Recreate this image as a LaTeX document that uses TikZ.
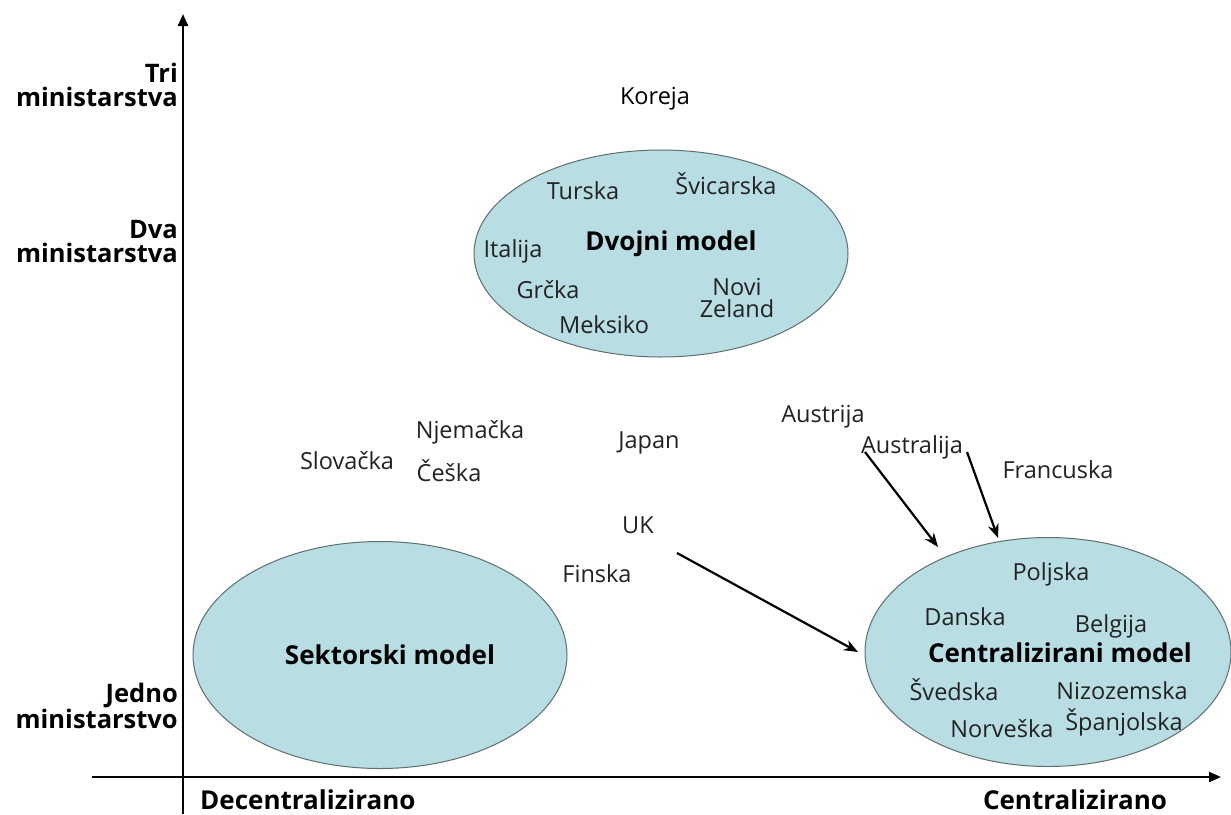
\documentclass[tikz,border=0pt]{standalone}
\usepackage{fontspec}
\setmainfont{Open Sans}
\usetikzlibrary{shapes.geometric,arrows.meta}
\definecolor{ellfill}{HTML}{B8DDE3}
\definecolor{ellline}{HTML}{5E6E71}
\definecolor{txt}{HTML}{222222}
\begin{document}
\begin{tikzpicture}[x=1pt,y=-1pt,
  cty/.style={font=\fontsize{23.5}{22}\selectfont, text=txt, inner sep=0pt, align=center},
  mdl/.style={font=\bfseries\fontsize{26}{26}\selectfont, text=black, inner sep=0pt},
  axl/.style={font=\bfseries\fontsize{25.5}{24}\selectfont, text=black, align=right, anchor=north east, inner sep=0pt},
  hxl/.style={font=\bfseries\fontsize{26}{26}\selectfont, text=black, inner sep=0pt},
  zone/.style={ellipse, draw=ellline, fill=ellfill, line width=1pt, inner sep=0pt},
  arr/.style={-{Stealth[length=14pt,width=11pt]}, line width=2.2pt},
  axisline/.style={-{Triangle[length=12pt,width=10pt]}, line width=2.2pt}]
\useasboundingbox (0,0) rectangle (1231,814);
\fill[white] (0,0) rectangle (1231,814);

% zones
\node[zone, minimum width=374pt, minimum height=207pt] (dv) at (661,253.5) {};
\node[zone, minimum width=374pt, minimum height=227pt] (sk) at (380,655) {};
\node[zone, minimum width=366pt, minimum height=229pt] (cm) at (1048,652) {};

% axes
\coordinate (yb) at (183,814);
\coordinate (yt) at (183,14);
\coordinate (xl) at (92,777);
\coordinate (xr) at (1221,777);
\draw[axisline] (yb) -- (yt);
\draw[axisline] (xl) -- (xr);

% axis labels
\node[axl] (tri) at (178,63) {Tri\\ministarstva};
\node[axl] (dva) at (178,220) {Dva\\ministarstva};
\node[axl] (jedno) at (178,683) {Jedno\\ministarstvo};
\node[hxl, anchor=north west] (dec) at (200,790) {Decentralizirano};
\node[hxl, anchor=north] (cen) at (1075,790) {Centralizirano};

% model titles
\node[mdl] (dvm) at (671,244) {Dvojni model};
\node[mdl] (skm) at (390,655) {Sektorski model};
\node[mdl] (cmm) at (1060,653) {Centralizirani model};

% dual model
\node[cty, text=black] (kor) at (655,99) {Koreja};
\node[cty] (tur) at (583,191) {Turska};
\node[cty] (svi) at (726,184) {Švicarska};
\node[cty] (ita) at (513,251) {Italija};
\node[cty] (grc) at (548,290) {Grčka};
\node[cty] (nz) at (737,298) {Novi\\Zeland};
\node[cty] (mek) at (604,325) {Meksiko};

% middle
\node[cty] (slo) at (347,461) {Slovačka};
\node[cty] (nje) at (470,432) {Njemačka};
\node[cty] (ces) at (449,471) {Češka};
\node[cty] (jap) at (649,443) {Japan};
\node[cty] (uk) at (638,525) {UK};
\node[cty] (fin) at (597,574) {Finska};
\node[cty] (aut) at (823,417) {Austrija};
\node[cty] (aus) at (912,447) {Australija};
\node[cty] (fra) at (1058,470) {Francuska};

% centralised model
\node[cty] (pol) at (1051,574) {Poljska};
\node[cty] (dan) at (965,617) {Danska};
\node[cty] (bel) at (1111,626) {Belgija};
\node[cty] (sve) at (954,690) {Švedska};
\node[cty] (niz) at (1122,691) {Nizozemska};
\node[cty] (nor) at (1002,729) {Norveška};
\node[cty] (spa) at (1124,722) {Španjolska};

% arrows
\coordinate (ukout) at (677,553);
\coordinate (cmw) at (858,652);
\coordinate (ausl) at (865,452);
\coordinate (cmnw) at (938,547);
\coordinate (ausr) at (967,452);
\coordinate (cmn) at (998,538);
\draw[arr] (ukout) -- (cmw);
\draw[arr] (ausl) -- (cmnw);
\draw[arr] (ausr) -- (cmn);
\end{tikzpicture}
\end{document}
